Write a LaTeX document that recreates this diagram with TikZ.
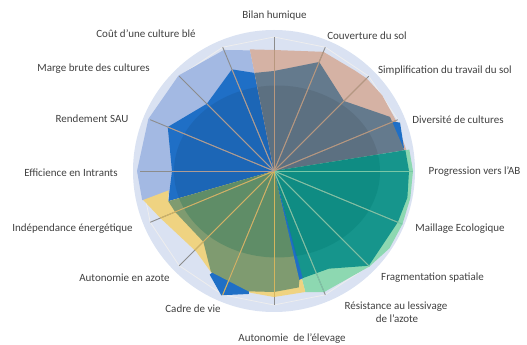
\documentclass[tikz,border=0pt]{standalone}
\usepackage{fontspec}
\setmainfont{Carlito}
\usetikzlibrary{calc}
\definecolor{halo}{HTML}{DAE2F2}
\definecolor{lblue}{HTML}{A3B9E3}
\definecolor{dblue}{HTML}{1F6FC6}
\definecolor{pinkc}{HTML}{D5B2A4}
\definecolor{slate}{HTML}{647A8D}
\definecolor{tealc}{HTML}{16958C}
\definecolor{mintc}{HTML}{8DD8B1}
\definecolor{yellowc}{HTML}{EFD381}
\definecolor{olivec}{HTML}{7F9B70}
\definecolor{txt}{HTML}{404040}
\definecolor{spgray}{HTML}{8C8C8C}
\definecolor{tanc}{HTML}{B8977E}
\definecolor{lspoke}{HTML}{AE9C94}
\definecolor{greenc}{HTML}{79C7A6}
\definecolor{goldc}{HTML}{D4B55E}
\definecolor{gridc}{HTML}{EEEEEE}
\definecolor{tealtint}{HTML}{007A70}
\definecolor{olivetint}{HTML}{006450}
\begin{document}
\begin{tikzpicture}[x=1pt,y=1pt,
  lbl/.style={font=\fontsize{11}{13}\selectfont, text=txt, anchor=base, inner sep=0pt},
  spoke/.style={line width=0.9pt}]
\useasboundingbox (0,0) rectangle (527,345);
\coordinate (C) at (274,174);
\coordinate (E) at (277,173.5);
\foreach \k in {0,...,15} \coordinate (a\k) at ($(C)+({90-22.5*\k}:134)$);
% halo
\fill[halo] (C) circle (141);
\draw[gridc, line width=0.8pt] (a0) -- (a1) -- (a2) -- (a3) -- (a4) -- (a5) -- (a6) -- (a7) -- (a8) -- (a9) -- (a10) -- (a11) -- (a12) -- (a13) -- (a14) -- (a15) -- cycle;
% light blue
\fill[lblue] (C) -- ($(C)+(192.5:135)$) -- ($(C)+(180:137)$) -- ($(C)+(157.5:136)$) -- ($(C)+(135:135)$) -- ($(C)+(112.5:131)$) -- ($(C)+(101.25:123)$) -- cycle;
% blue
\fill[dblue] (C) -- ($(C)+(196:110)$) -- ($(C)+(180:102)$) -- ($(C)+(157.5:115)$) -- ($(C)+(135:95)$) -- ($(C)+(112.5:110)$) -- ($(C)+(101.25:100)$) -- cycle;
% pink
\fill[pinkc] (C) -- ($(C)+(101.25:124)$) -- ($(C)+(90:121)$) -- ($(C)+(67.5:129)$) -- ($(C)+(51:129)$) -- ($(C)+(45:131)$) -- ($(C)+(35:132)$) -- ($(C)+(22.5:132)$) -- ($(C)+(9:134)$) -- cycle;
% blue tip (diversite)
\fill[dblue] ($(C)+(28:112)$) -- ($(C)+(21:135)$) -- ($(C)+(10:132)$) -- ($(C)+(12:110)$) -- cycle;
% slate
\fill[slate] (C) -- ($(C)+(101.25:100)$) -- ($(C)+(90:100)$) -- ($(C)+(67.5:118)$) -- ($(C)+(45:99)$) -- ($(C)+(25:128)$) -- ($(C)+(9:132)$) -- cycle;
% mint
\fill[mintc] (C) -- ($(C)+(9:137)$) -- ($(C)+(0:139)$) -- ($(C)+(-11.25:139)$) -- ($(C)+(-22.5:139)$) -- ($(C)+(-33.75:139)$) -- ($(C)+(-45:135)$) -- ($(C)+(-67.5:131)$) -- ($(C)+(-75.5:125)$) -- cycle;
% teal
\fill[tealc] (C) -- ($(C)+(9:133)$) -- ($(C)+(0:135)$) -- ($(C)+(-11.25:136)$) -- ($(C)+(-22.5:134)$) -- ($(C)+(-45:134)$) -- ($(C)+(-60.7:112)$) -- ($(C)+(-75.5:111)$) -- cycle;
% yellow
\fill[yellowc] (C) -- ($(C)+(-75.5:125)$) -- ($(C)+(-90:126)$) -- ($(C)+(-101:124)$) -- ($(C)+(-121:120)$) -- ($(C)+(-134:112)$) -- ($(C)+(-157.5:123)$) -- ($(C)+(-167.5:134)$) -- ($(C)+(-169.6:107)$) -- ($(C)+(-164:110)$) -- cycle;
% blue sliver between olive and teal
\fill[dblue] (C) -- ($(C)+(-75:111)$) -- ($(C)+(-77.3:112)$) -- cycle;
% blue tip (cadre de vie)
\fill[dblue] ($(C)+(-118:100)$) -- ($(C)+(-121.8:122)$) -- ($(C)+(-113:135)$) -- ($(C)+(-101.5:125.5)$) -- ($(C)+(-106:100)$) -- cycle;
% olive
\fill[olivec] (C) -- ($(C)+(196:110)$) -- ($(C)+(-157.5:107)$) -- ($(C)+(-135:100)$) -- ($(C)+(-122:119)$) -- ($(C)+(-102:123)$) -- ($(C)+(-90:121)$) -- ($(C)+(-78:119)$) -- ($(C)+(-76.9:112)$) -- cycle;
% inner shading, per sector
\begin{scope}
  \clip (C) -- ($(C)+(9:200)$) -- ($(C)+(90:200)$) -- ($(C)+(196:200)$) -- cycle;
  \fill[black, opacity=0.08] (E) ellipse [x radius=103, y radius=86];
\end{scope}
\begin{scope}
  \clip (C) -- ($(C)+(9:200)$) -- ($(C)+(-40:200)$) -- ($(C)+(-75.5:200)$) -- cycle;
  \fill[tealtint, opacity=0.3] (E) ellipse [x radius=103, y radius=86];
\end{scope}
\begin{scope}
  \clip (C) -- ($(C)+(-76.9:200)$) -- ($(C)+(-120:200)$) -- ($(C)+(196:200)$) -- cycle;
  \fill[olivetint, opacity=0.25] (E) ellipse [x radius=103, y radius=86];
\end{scope}
% spokes
\foreach \k in {0,...,15} \draw[spoke, spgray] (C) -- (a\k);
\foreach \k/\r/\c in {0/121/tanc, 1/129/tanc, 2/131/tanc, 3/132/tanc,
  4/139/greenc, 5/139/greenc, 6/135/greenc, 7/131/greenc,
  8/126/goldc, 9/134/goldc, 10/112/goldc, 11/123/goldc,
  12/102/lspoke, 13/115/lspoke, 14/95/lspoke, 15/110/lspoke}
  \draw[spoke, \c] (C) -- ($(C)+({90-22.5*\k}:\r)$);
% labels
\node[lbl] (l0) at (274.5,326) {Bilan humique};
\node[lbl] (l1) at (367,305) {Couverture du sol};
\node[lbl] (l2) at (445,271) {Simplification du travail du sol};
\node[lbl] (l3) at (458,221) {Diversité de cultures};
\node[lbl] (l4) at (474.5,170) {Progression vers l'AB};
\node[lbl] (l5) at (460,113) {Maillage Ecologique};
\node[lbl] (l6) at (432.5,64) {Fragmentation spatiale};
\node[lbl] (l7a) at (396,35) {Résistance au lessivage};
\node[lbl] (l7b) at (397,22) {de l'azote};
\node[lbl] (l8) at (292,3) {Autonomie\ \ de l'élevage};
\node[lbl] (l9) at (193,32) {Cadre de vie};
\node[lbl] (l10) at (124.5,63) {Autonomie en azote};
\node[lbl] (l11) at (72.5,113) {Indépendance énergétique};
\node[lbl] (l12) at (71,168) {Efficience en Intrants};
\node[lbl] (l13) at (92,222) {Rendement SAU};
\node[lbl] (l14) at (93.5,273) {Marge brute des cultures};
\node[lbl] (l15) at (146,307) {Coût d'une culture blé};
\end{tikzpicture}
\end{document}
